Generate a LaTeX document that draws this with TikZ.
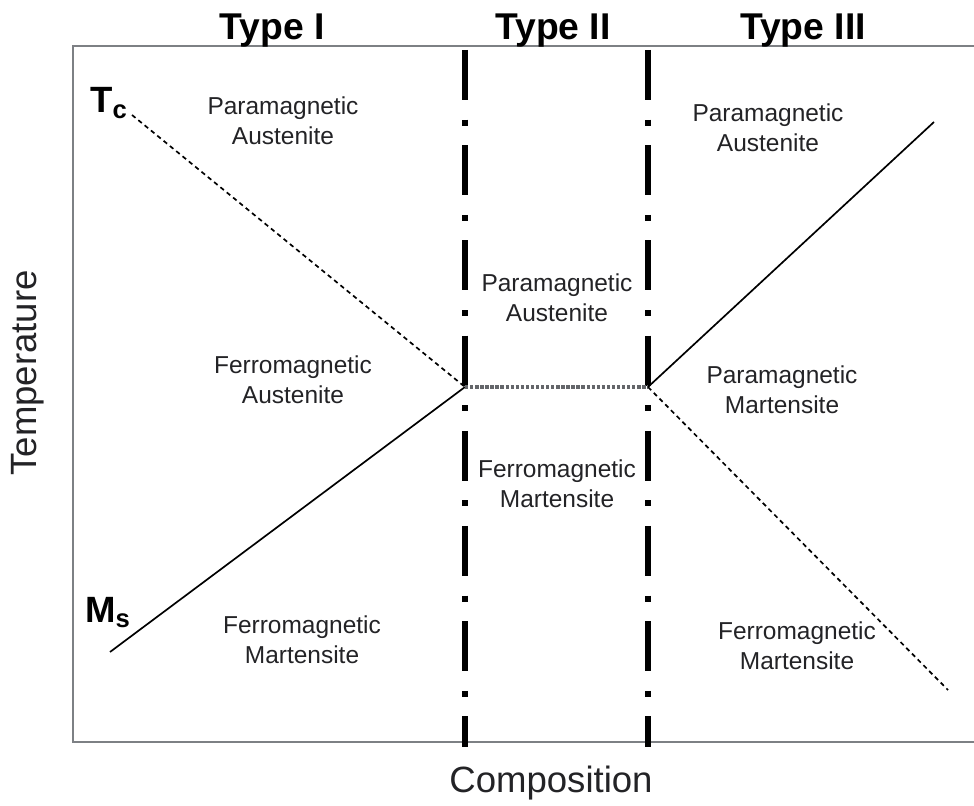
\documentclass[tikz,border=0pt]{standalone}
\usepackage{fontspec}
\setmainfont{Liberation Sans}
\usetikzlibrary{positioning}
\definecolor{framegray}{RGB}{125,128,132}
\definecolor{textgray}{RGB}{35,35,38}

\begin{document}
\begin{tikzpicture}[
    x=0.025cm, y=-0.025cm,
    phase/.style={align=center, text=textgray, inner sep=0pt,
        font=\fontsize{17.4}{21.3}\selectfont},
    axislabel/.style={text=textgray, inner sep=0pt,
        font=\fontsize{26}{30}\selectfont},
    typehead/.style={anchor=base, inner sep=0pt,
        font=\fontsize{26.5}{30}\selectfont\bfseries},
    tempmark/.style={anchor=base west, inner sep=0pt,
        font=\fontsize{26}{30}\selectfont\bfseries},
    frame/.style={draw=framegray, line width=1.4pt},
    border/.style={line width=4.3pt, line cap=butt,
        dash pattern=on 35.6pt off 13.9pt on 4.3pt off 13.9pt},
    solidline/.style={line width=1.2pt},
    dashline/.style={line width=1.2pt, dash pattern=on 3.2pt off 2.6pt},
    flatline/.style={draw=framegray!80!black, line width=2.6pt, dash pattern=on 2.4pt off 1.2pt}
]
\useasboundingbox (0,0) rectangle (974,806);

% frame
\coordinate (tr) at (974,46);
\coordinate (tl) at (73,46);
\coordinate (bl) at (73,742);
\coordinate (br) at (974,742);
\draw[frame] (tr) -- (tl) -- (bl) -- (br);

% type borders
\coordinate (b1top) at (465,50);
\coordinate (b1bot) at (465,747);
\coordinate (b2top) at (648,50);
\coordinate (b2bot) at (648,747);
\draw[border] (b1top) -- (b1bot);
\draw[border] (b2top) -- (b2bot);

% transition lines
\coordinate (tc) at (132,115);
\coordinate (ms) at (110,652);
\coordinate (left) at (465,387);
\coordinate (right) at (648,387);
\coordinate (msend) at (934,122);
\coordinate (tcend) at (948,690);
\draw[dashline] (tc) -- (left);
\draw[solidline] (ms) -- (left);
\draw[flatline] (left) -- (right);
\draw[solidline] (right) -- (msend);
\draw[dashline] (right) -- (tcend);

% headings
\node[typehead] (type1) at (272,40) {Type I};
\node[typehead] (type2) at (553,40) {Type II};
\node[typehead] (type3) at (803,40) {Type III};
\node[tempmark] (tcmark) at (90,113) {T\textsubscript{c}};
\node[tempmark] (msmark) at (85,622) {M\textsubscript{s}};

% axes
\node[axislabel, rotate=90] (temp) at (28,373) {Temperature};
\node[axislabel] (comp) at (551,783) {Composition};

% phases
\node[phase] (pa1) at (283,121) {Paramagnetic\\Austenite};
\node[phase] (fa1) at (293,380) {Ferromagnetic\\Austenite};
\node[phase] (fm1) at (302,640) {Ferromagnetic\\Martensite};
\node[phase] (pa2) at (557,298) {Paramagnetic\\Austenite};
\node[phase] (fm2) at (557,484) {Ferromagnetic\\Martensite};
\node[phase] (pa3) at (768,128) {Paramagnetic\\Austenite};
\node[phase] (pm3) at (782,390) {Paramagnetic\\Martensite};
\node[phase] (fm3) at (797,646) {Ferromagnetic\\Martensite};

\end{tikzpicture}
\end{document}
